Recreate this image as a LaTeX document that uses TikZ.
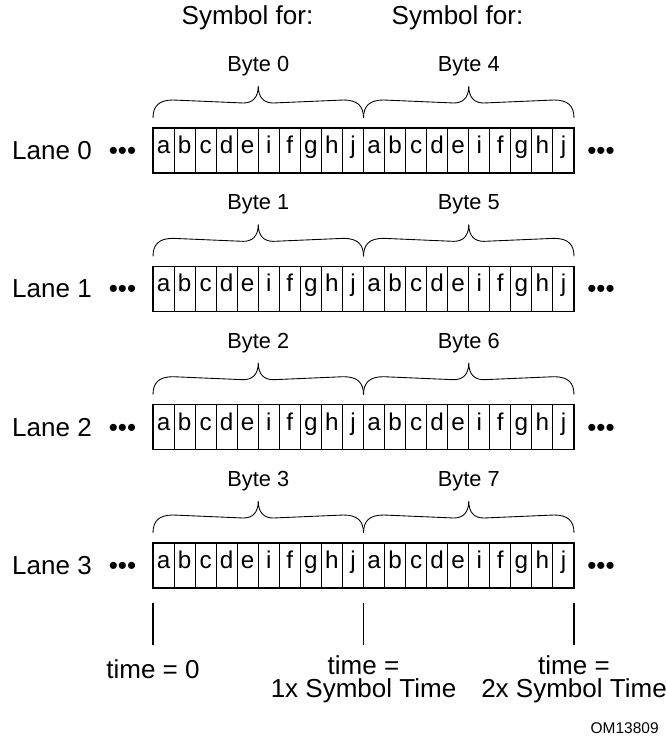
\documentclass[tikz,border=0pt]{standalone}
\usepackage{fontspec}
\setmainfont{Liberation Sans}
\usepackage{tikz}

\begin{document}
\begin{tikzpicture}[line width=0.6pt,
  cell/.style={draw,minimum width=4.21mm,minimum height=9mm,inner sep=0pt,
               text height=0.72em,text depth=0.4em,
               font=\fontsize{13.8}{14}\selectfont},
  lane/.style={font=\fontsize{14.8}{16}\selectfont},
  dots/.style={font=\fontsize{14.8}{16}\selectfont,inner sep=0pt,yshift=-0.6mm},
  bytelbl/.style={font=\fontsize{12.4}{13}\selectfont},
  brc/.style={draw,line width=0.5pt},
  timelbl/.style={font=\fontsize{14.8}{13}\selectfont,align=center}]
\useasboundingbox (0,0) rectangle (13.32,-14.76);
\newcommand{\bytebrace}[4]{\draw[brc] (#1,#4+0.2)
  .. controls (#1,#4+0.44) and (#1+0.12,#4+0.56) .. (#1+0.4,#4+0.56)
  -- (#2-0.3,#4+0.5) .. controls (#2-0.12,#4+0.5) and (#2,#4+0.6) .. (#2,#4+0.84)
  .. controls (#2,#4+0.6) and (#2+0.12,#4+0.5) .. (#2+0.3,#4+0.5)
  -- (#3-0.4,#4+0.56) .. controls (#3-0.12,#4+0.56) and (#3,#4+0.44) .. (#3,#4+0.2);}
\newcommand{\lanerow}[3]{%
  \node[lane] (lane#1) at (1.04,#3-0.45) {Lane #1};
  \node[dots] (ldots#1) at (2.45,#3-0.45) {•••};
  \foreach \ch [count=\i] in {a,b,c,d,e,i,f,g,h,j,a,b,c,d,e,i,f,g,h,j}
    \node[cell] (c#1-\i) at ({2.8495+0.421*\i},#3-0.45) {\ch};
  \node[dots] (rdots#1) at (12.02,#3-0.45) {•••};
  \bytebrace{3.06}{5.165}{7.27}{#3}
  \bytebrace{7.27}{9.375}{11.48}{#3}
  \node[bytelbl] (byte#1) at (5.165,#3+1.24) {Byte #1};
  \node[bytelbl] (byte#2) at (9.375,#3+1.24) {Byte #2};}

\node[lane] (sym0) at (4.95,-0.36) {Symbol for:};
\node[lane] (sym1) at (9.15,-0.36) {Symbol for:};

\lanerow{0}{4}{-2.56}
\lanerow{1}{5}{-5.327}
\lanerow{2}{6}{-8.094}
\lanerow{3}{7}{-10.86}

\foreach \n/\x in {0/3.06,1/7.27,2/11.48}{
  \coordinate (tk\n a) at (\x,-12.06); \coordinate (tk\n b) at (\x,-12.9);
  \draw (tk\n a) -- (tk\n b);}
\node[timelbl] (tl0) at (3.06,-13.38) {time = 0};
\node[timelbl] (tl1) at (7.27,-13.58) {time =\\1x Symbol Time};
\node[timelbl] (tl2) at (11.48,-13.58) {time =\\2x Symbol Time};
\node[anchor=east,font=\fontsize{8.8}{10}\selectfont] (fig) at (13.3,-14.56) {OM13809};
\end{tikzpicture}
\end{document}
